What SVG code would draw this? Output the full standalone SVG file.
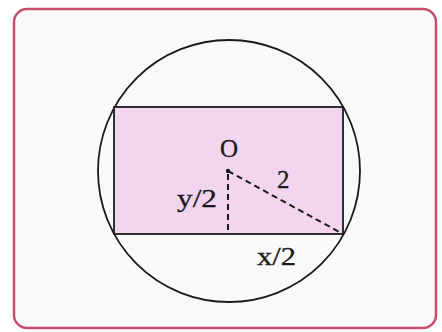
<svg xmlns="http://www.w3.org/2000/svg" width="442" height="332" viewBox="0 0 442 332">
  <style>
    .line { stroke: #1a1a1a; stroke-width: 1.8; fill: none; }
    .dash { stroke: #1a1a1a; stroke-width: 2; fill: none; stroke-dasharray: 6 4; }
    .lbl { font-family: "Liberation Serif", "Times New Roman", serif; font-size: 25px; fill: #1a1a1a; stroke: #1a1a1a; stroke-width: 0.3; }
  </style>
  <rect x="0" y="0" width="442" height="332" fill="#ffffff"/>
  <rect id="frame" x="14" y="9" width="422" height="319" rx="13" fill="#f8f9f8" stroke="#c4506e" stroke-width="2.5"/>
  <g id="circle">
    <circle class="line" cx="229" cy="171" r="131"/>
  </g>
  <g id="rectangle">
    <rect x="114" y="107" width="229" height="127" fill="#f3d5f0" stroke="#1a1a1a" stroke-width="1.8"/>
  </g>
  <g id="connectors">
    <line class="dash" x1="228" y1="174" x2="228" y2="234"/>
    <line class="dash" x1="228" y1="171" x2="343" y2="234"/>
    <circle cx="228" cy="171" r="2.2" fill="#1a1a1a"/>
  </g>
  <g id="labels">
    <text class="lbl" x="229" y="157" text-anchor="middle" font-size="27">O</text>
    <text class="lbl" x="277" y="188" font-size="26">2</text>
    <text class="lbl" x="177" y="207" textLength="40" lengthAdjust="spacingAndGlyphs">y/2</text>
    <text class="lbl" x="257" y="265" textLength="39" lengthAdjust="spacingAndGlyphs">x/2</text>
  </g>
</svg>
